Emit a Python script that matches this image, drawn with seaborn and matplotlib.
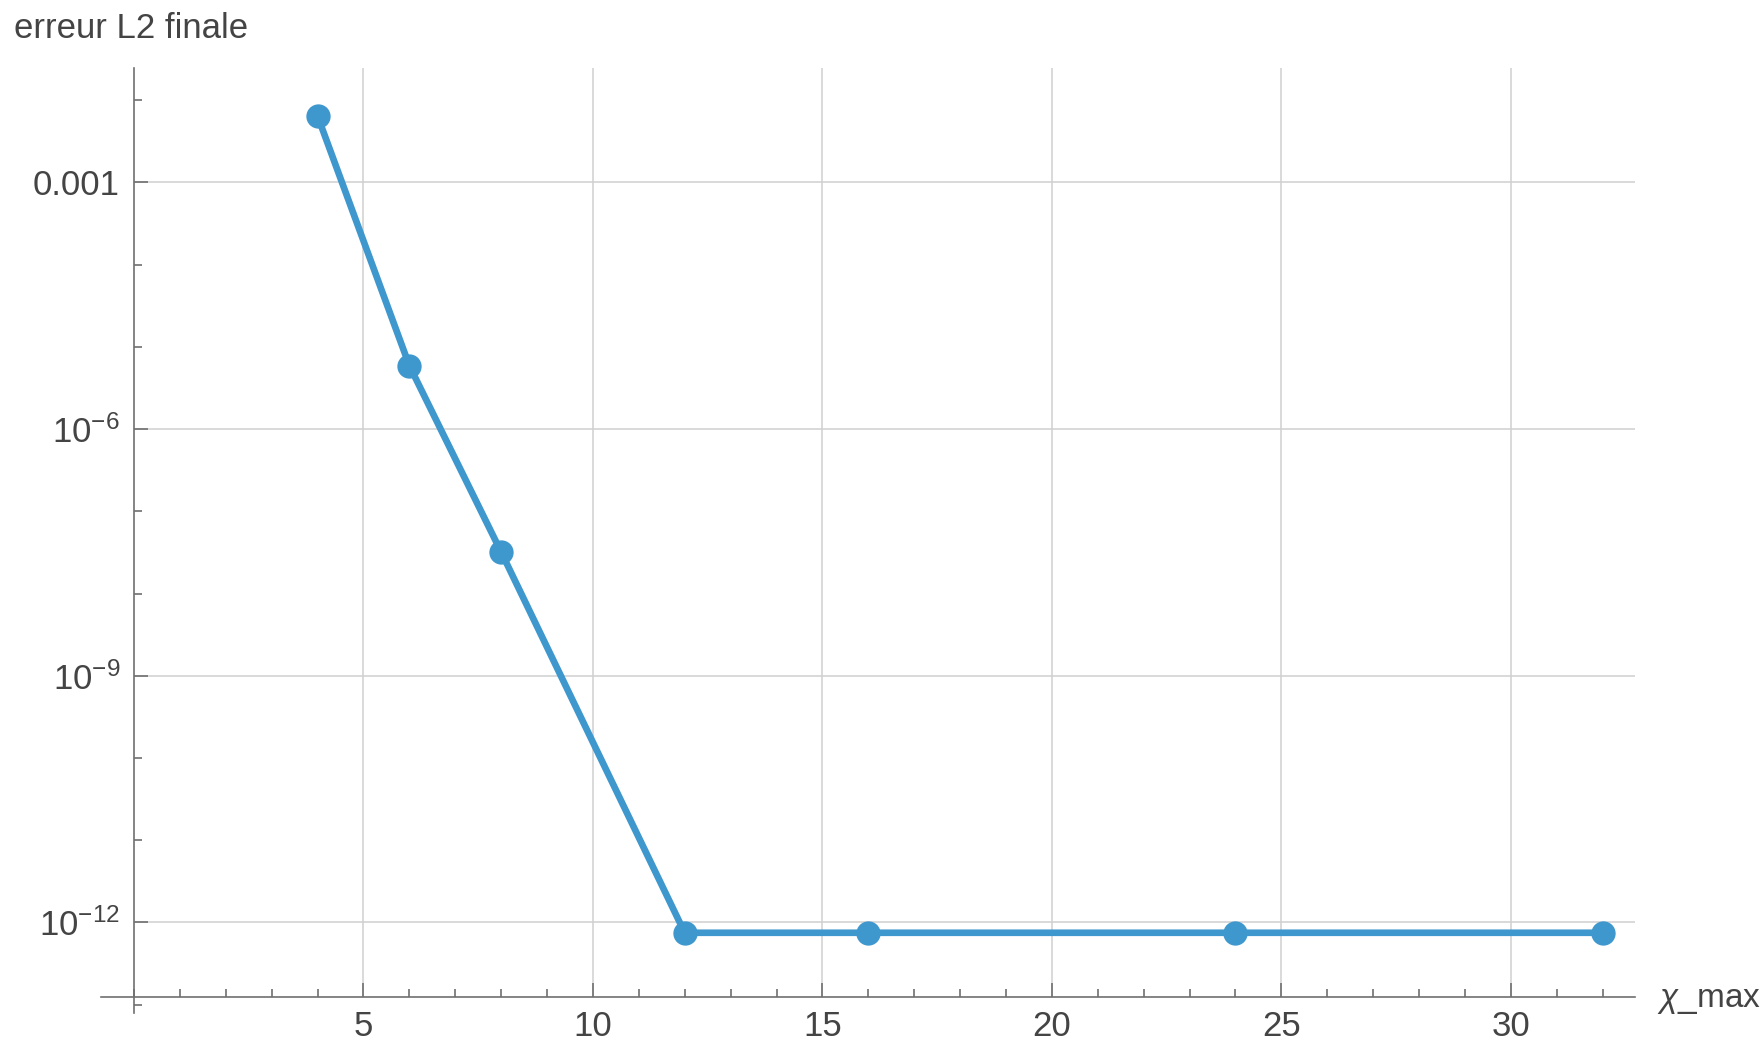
import numpy as np
import pandas as pd
import matplotlib
matplotlib.use("Agg")
import matplotlib.pyplot as plt
import matplotlib.ticker as mticker
import seaborn as sns

# values
chi_max = [4, 6, 8, 12, 16, 24, 32]
erreur = [6.4e-3, 5.9e-6, 3.2e-8, 7.5e-13, 7.5e-13, 7.5e-13, 7.5e-13]

x_major = [5, 10, 15, 20, 25, 30]
y_major = [1e-3, 1e-6, 1e-9, 1e-12]
y_labels = ["0.001", "$10^{-6}$", "$10^{-9}$", "$10^{-12}$"]

sns.set_style("white")
plt.rcParams['font.family'] = ['Liberation Sans', 'DejaVu Sans']
plt.rcParams['mathtext.fontset'] = 'custom'
plt.rcParams['mathtext.rm'] = 'Liberation Sans'
plt.rcParams['mathtext.it'] = 'Liberation Sans:italic'
plt.rcParams['mathtext.default'] = 'regular'

blue = '#3e97cd'
txt = '#444444'
axcol = '#707070'
fs = 25

df = pd.DataFrame({'chi_max': chi_max, 'erreur': erreur})

fig = plt.figure(figsize=(17.65, 10.43), dpi=100)
ax = fig.add_axes([0.0572, 0.0288, 0.869, 0.906])

x_lo, x_hi = -0.72, 32.7
y_lo, y_hi = 10 ** -13.10, 10 ** -1.61
y_axis = 10 ** -12.91

ax.set_yscale('log')
ax.set_xlim(x_lo, x_hi)
ax.set_ylim(y_lo, y_hi)

# grid limited to the plot range
ax.vlines(x_major, y_axis, y_hi, color='#d0d0d0', lw=1.1, zorder=0)
ax.hlines(y_major, 0, x_hi, color='#d0d0d0', lw=1.1, zorder=0)

sns.lineplot(data=df, x='chi_max', y='erreur', color=blue, lw=4.8,
             marker='o', markersize=17.5, markeredgewidth=0, ax=ax, zorder=3)

for s in ['top', 'right']:
    ax.spines[s].set_visible(False)
ax.spines['left'].set_position(('data', 0))
ax.spines['bottom'].set_position(('data', y_axis))
for s in ['left', 'bottom']:
    ax.spines[s].set_color(axcol)
    ax.spines[s].set_linewidth(1.2)

ax.xaxis.set_major_locator(mticker.FixedLocator(x_major))
ax.xaxis.set_minor_locator(mticker.MultipleLocator(1))
ax.xaxis.set_major_formatter(mticker.FixedFormatter([str(v) for v in x_major]))
ax.yaxis.set_major_locator(mticker.FixedLocator(y_major))
ax.yaxis.set_major_formatter(mticker.FixedFormatter(y_labels))
ax.yaxis.set_minor_locator(mticker.LogLocator(base=10, subs=[1.0], numticks=30))
ax.yaxis.set_minor_formatter(mticker.NullFormatter())

ax.tick_params(which='both', direction='in', color=axcol, width=1.2,
               labelsize=fs, labelcolor=txt, bottom=True, left=True)
ax.tick_params(which='major', length=10)
ax.tick_params(which='minor', length=6)
ax.tick_params(axis='x', pad=9)
ax.tick_params(axis='y', pad=10)

ax.set_xlabel('')
ax.set_ylabel('')

fig.text(0.008, 1 - 28 / 1043, 'erreur L2 finale', fontsize=fs, color=txt,
         va='center', ha='left')
fig.text(1657 / 1765, 1 - 1000 / 1043, r'$\mathit{\chi}$_max', fontsize=24,
         color=txt, va='center', ha='left')

fig.savefig('out.png', dpi=100)
